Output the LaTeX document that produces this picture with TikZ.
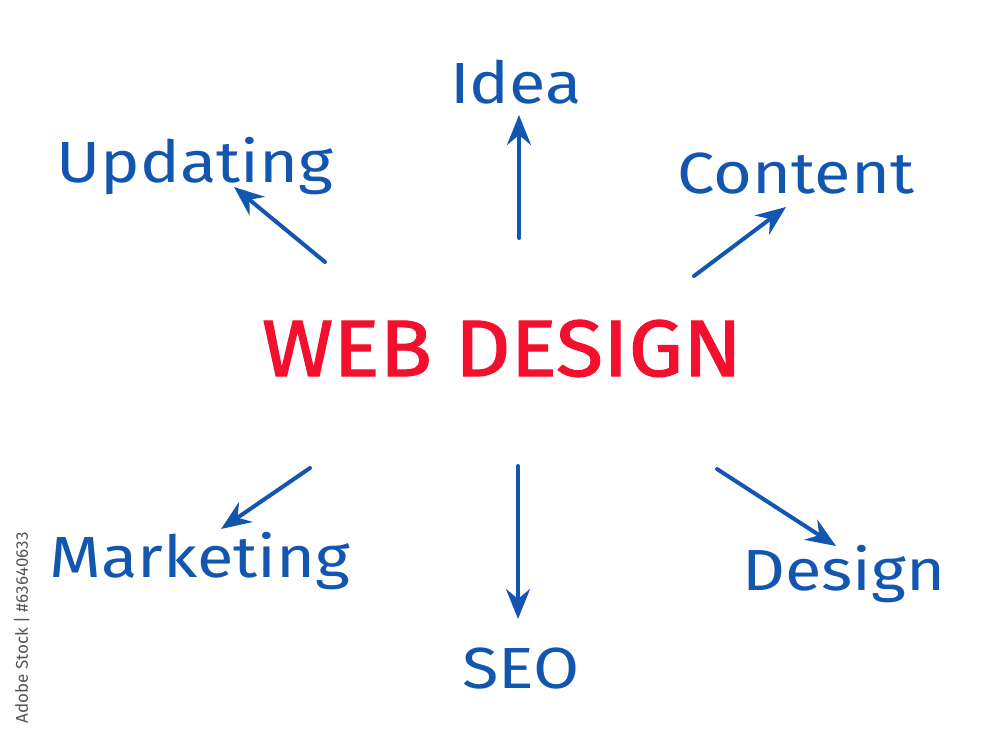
\documentclass[tikz,border=0pt]{standalone}
\usepackage{fontspec}
\usepackage{graphicx}
\setmainfont{Fira Sans}
\usetikzlibrary{arrows.meta}
\definecolor{penblue}{HTML}{1256B0}
\definecolor{penred}{HTML}{F2102E}
\definecolor{wmgray}{HTML}{555555}
\newcommand{\widetxt}[1]{\scalebox{1.15}[1]{#1}}
\newcommand{\widetitle}[1]{\scalebox{1.08}[1]{#1}}
\tikzset{
  word/.style={anchor=base, text=penblue, font=\fontsize{58}{60}\selectfont, inner sep=0pt},
  title/.style={anchor=base, text=penred, font=\fontsize{80}{82}\selectfont\addfontfeatures{FakeBold=1.5}, inner sep=0pt},
  pointer/.style={draw=penblue, line width=4pt, line cap=round, -{Stealth[length=30pt, width=24pt, inset=10pt]}},
  wmtext/.style={text=wmgray, font=\fontsize{17}{18}\selectfont, rotate=90, inner sep=0pt}
}
\begin{document}
\begin{tikzpicture}[x=1pt, y=-1pt]
\useasboundingbox[fill=white] (0,0) rectangle (1000,750);
\node[title] (web) at (502,376) {\widetitle{WEB DESIGN}};
\node[word] (idea) at (516,103) {\widetxt{Idea}};
\node[word] (upd) at (195,182) {\widetxt{Updating}};
\node[word] (cont) at (796,193) {\widetxt{Content}};
\node[word] (mkt) at (200,577) {\widetxt{Marketing}};
\node[word] (seo) at (521,688) {\widetxt{SEO}};
\node[word] (des) at (844,590) {\widetxt{Design}};
\node[wmtext] (wm) at (22,628) {Adobe Stock | \#63640633};
\coordinate (s1) at (325,262); \coordinate (e1) at (234,187);
\coordinate (s2) at (519,238); \coordinate (e2) at (519,115);
\coordinate (s3) at (694,276); \coordinate (e3) at (786,207);
\coordinate (s4) at (310,468); \coordinate (e4) at (221,529);
\coordinate (s5) at (518,466); \coordinate (e5) at (518,619);
\coordinate (s6) at (717,469); \coordinate (e6) at (836,546);
\draw[pointer] (s1) -- (e1);
\draw[pointer] (s2) -- (e2);
\draw[pointer] (s3) -- (e3);
\draw[pointer] (s4) -- (e4);
\draw[pointer] (s5) -- (e5);
\draw[pointer] (s6) -- (e6);
\end{tikzpicture}
\end{document}
